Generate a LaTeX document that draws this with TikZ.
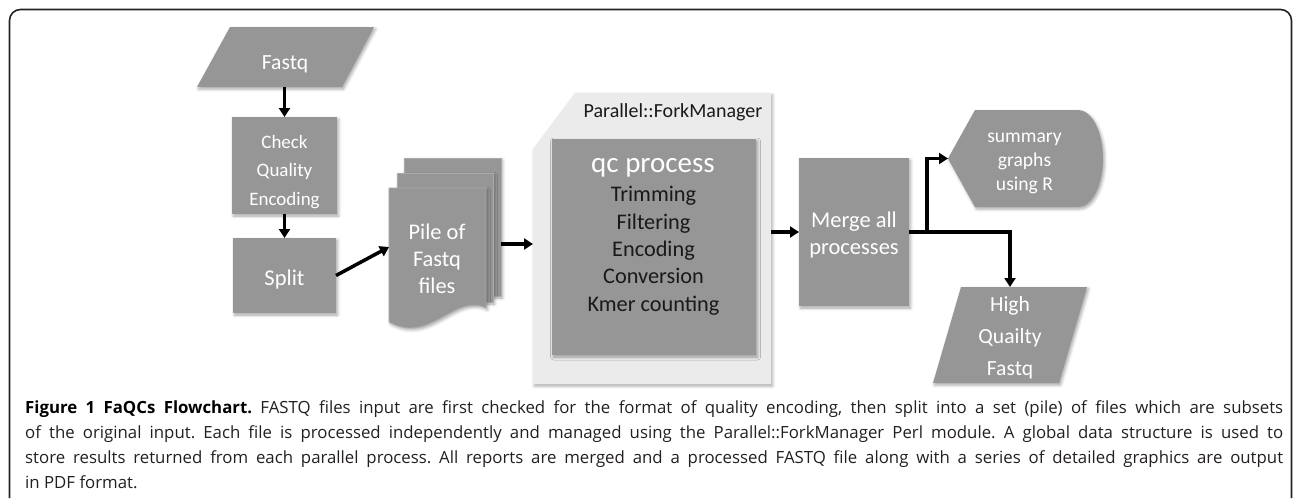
\documentclass[tikz,border=0pt]{standalone}
\usepackage{fontspec}
\setmainfont{Carlito}
\newfontfamily\capfont{Open Sans}
\usetikzlibrary{arrows.meta,calc,shadows.blur}
\definecolor{boxgrey}{RGB}{150,150,150}
\definecolor{panelgrey}{RGB}{235,235,235}
\definecolor{framecol}{RGB}{35,35,35}
\definecolor{captxt}{RGB}{35,31,32}
\newcommand{\setfs}[1]{\fontsize{#1pt}{#1pt}\selectfont}
\frenchspacing

\tikzset{
  softshadow/.style={blur shadow={shadow xshift=1.5pt, shadow yshift=-2pt,
      shadow blur radius=3pt, shadow opacity=35}},
  hold/.style={rectangle, draw=none, fill=none, inner sep=0pt, outer sep=0pt},
  gbox/.style={rectangle, fill=boxgrey, draw=none, inner sep=0pt, outer sep=0pt, softshadow},
  gfill/.style={fill=boxgrey, softshadow},
  wtxt/.style={anchor=base, inner sep=0pt, text=white},
  btxt/.style={anchor=base, inner sep=0pt, text=black!90},
  captxtline/.style={anchor=base west, inner sep=0pt, text=captxt, font=\capfont\setfs{16.8}},
  conn/.style={line width=3.5pt, black, -{Triangle[length=9pt,width=11pt]}},
  frameline/.style={framecol, line width=1.6pt, rounded corners=11pt}
}

\begin{document}
\begin{tikzpicture}[x=1pt,y=-1pt]
\useasboundingbox (0,0) rectangle (1293,498);

% outer figure frame, open at the bottom
\draw[frameline] (9.5,498) -- (9.5,9.5) -- (1291.5,9.5) -- (1291.5,498);

% ---------- input ----------
\node[hold, minimum width=177pt, minimum height=60pt] (fastq) at (285.5,57) {};
\path[gfill] (fastq.south west) -- ($(fastq.north west)+(33,0)$) -- (fastq.north east)
   -- ($(fastq.south east)+(-32,0)$) -- cycle;
\node[wtxt, font=\setfs{21.6}] (fastqL) at (285,69.3) {Fastq};

% ---------- quality encoding check ----------
\node[gbox, minimum width=105pt, minimum height=97pt] (check) at (284.5,165.5) {};
\node[wtxt, font=\setfs{19}] (check1) at (284.5,148) {Check};
\node[wtxt, font=\setfs{19}] (check2) at (284.5,176.5) {Quality};
\node[wtxt, font=\setfs{19}] (check3) at (284.5,205) {Encoding};

% ---------- split ----------
\node[gbox, minimum width=103pt, minimum height=75pt] (split) at (284.5,275.5) {};
\node[wtxt, font=\setfs{22.5}] (splitL) at (284.5,285) {Split};

% ---------- pile of files ----------
\node[hold, minimum width=112pt, minimum height=172pt] (pile) at (445,244) {};
\node[hold, minimum width=97pt, minimum height=142pt] (pilefront) at (437.5,259) {};
\path[gfill, draw=boxgrey!80!white, line width=0.6pt] (404,158) rectangle (501,296);
\path[gfill, draw=boxgrey!80!white, line width=0.6pt] (397,173) rectangle (493,302);
\path[gfill, draw=boxgrey!80!white, line width=0.6pt] (pilefront.north west) -- (pilefront.north east)
   -- (486,308) .. controls (455,292) and (430,345) .. (389,322) -- cycle;
\node[wtxt, font=\setfs{22.4}] (pile1) at (437,239) {Pile of};
\node[wtxt, font=\setfs{22.4}] (pile2) at (437,266) {Fastq};
\node[wtxt, font=\setfs{22.4}] (pile3) at (437,293) {files};

% ---------- parallel processing panel ----------
\node[hold, minimum width=238pt, minimum height=291pt] (panel) at (652,238.5) {};
\path[fill=panelgrey, softshadow] (panel.south west) -- ($(panel.north west)+(0,56)$)
   -- ($(panel.north west)+(42,0)$) -- (panel.north east) -- (panel.south east) -- cycle;
\node[btxt, font=\setfs{20}] (pfm) at (673,117.7) {Parallel::ForkManager};
\node[gbox, minimum width=204pt, minimum height=216pt] (qc) at (654,247) {};
\node[wtxt, font=\setfs{29}] (qcT) at (653,172.7) {qc process};
\foreach \t/\yy [count=\i] in {Trimming/201.7, Filtering/229, Encoding/256.3,
    Conversion/283.6, Kmer counting/311}
  \node[btxt, font=\setfs{22.3}] (qcstep\i) at (653.5,\yy) {\t};

% ---------- merge ----------
\node[gbox, minimum width=110pt, minimum height=148pt] (merge) at (854,232) {};
\node[wtxt, font=\setfs{22.5}] (merge1) at (854,227.7) {Merge all};
\node[wtxt, font=\setfs{22.5}] (merge2) at (854,254) {processes};

% ---------- summary graphs (display shape) ----------
\node[hold, minimum width=155pt, minimum height=97pt] (summary) at (1025.5,158.5) {};
\path[gfill] (summary.west) -- ($(summary.north west)+(27,0)$) -- (1078,110)
   .. controls (1091.8,110) and (1103,131.7) .. (1103,158.5)
   .. controls (1103,185.3) and (1091.8,207) .. (1078,207)
   -- ($(summary.south west)+(27,0)$) -- cycle;
\node[wtxt, font=\setfs{19.6}] (sum1) at (1024.5,142.7) {summary};
\node[wtxt, font=\setfs{19.6}] (sum2) at (1024.5,166) {graphs};
\node[wtxt, font=\setfs{19.6}] (sum3) at (1024.5,190) {using R};

% ---------- high quality output ----------
\node[hold, minimum width=154pt, minimum height=96pt] (high) at (1010,335) {};
\path[gfill] (high.south west) -- ($(high.north west)+(28,0)$) -- (high.north east)
   -- ($(high.south east)+(-28,0)$) -- cycle;
\node[wtxt, font=\setfs{21.6}] (high1) at (1010,311.5) {High};
\node[wtxt, font=\setfs{21.6}] (high2) at (1010,343.5) {Quailty};
\node[wtxt, font=\setfs{21.6}] (high3) at (1010,375.5) {Fastq};

% ---------- connectors ----------
\draw[conn] (check.north |- fastq.south) -- (check.north);
\draw[conn] (check.south) -- (split.north);
\draw[conn] (split.east) -- ($(pilefront.west)+(0,-12)$);
\draw[conn] (pile.east) -- (pile.east -| panel.west);
\draw[conn] (panel.east |- merge.west) -- (merge.west);
\draw[conn] (merge.east) -| (high.north);
\coordinate (fork) at ($(merge.east)+(18,1.75)$);
\draw[conn] (fork) |- (summary.west);

% ---------- caption ----------
\node[captxtline] (cap1) at (25,413.3) {\makebox[1258pt][s]{{\bfseries\color{black}Figure 1 FaQCs Flowchart.} FASTQ files input are first checked for the format of quality encoding, then split into a set (pile) of files which are subsets}};
\node[captxtline] (cap2) at (25,438.3) {\makebox[1258pt][s]{of the original input. Each file is processed independently and managed using the Parallel::ForkManager Perl module. A global data structure is used to}};
\node[captxtline] (cap3) at (25,463.3) {\makebox[1258pt][s]{store results returned from each parallel process. All reports are merged and a processed FASTQ file along with a series of detailed graphics are output}};
\node[captxtline] (cap4) at (25,488.5) {in PDF format.};
\end{tikzpicture}
\end{document}
